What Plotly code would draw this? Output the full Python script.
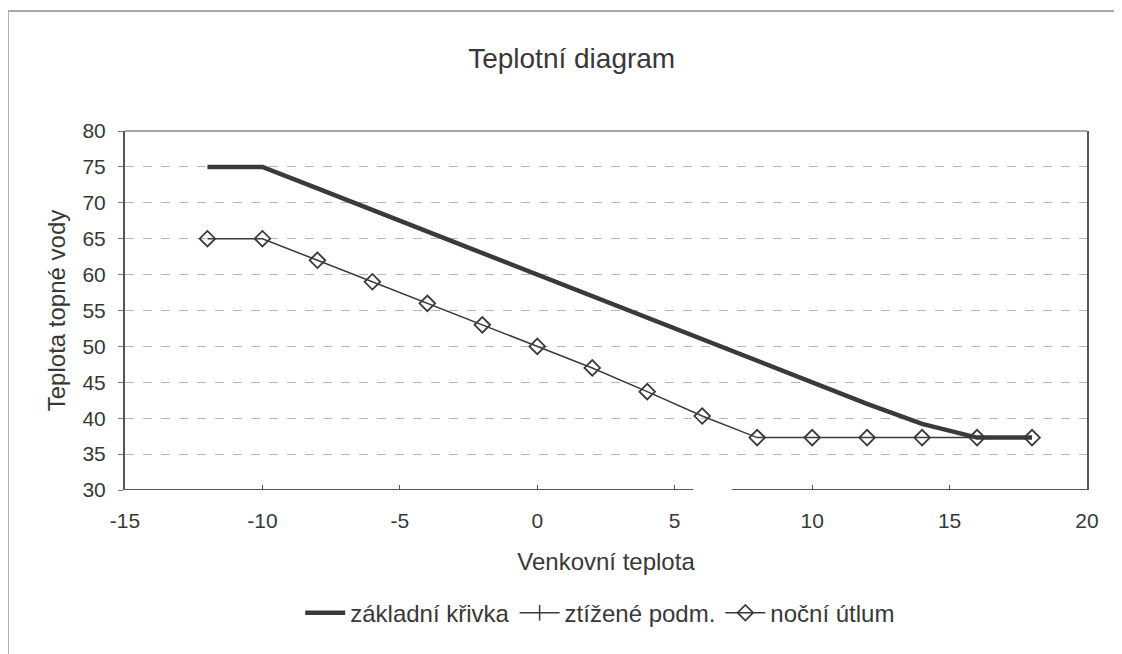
import plotly.graph_objects as go

# Data
x_temp = [-12, -10, -8, -6, -4, -2, 0, 2, 4, 6, 8, 10, 12, 14, 16, 18]
zakladni = [75, 75, 72, 69, 66, 63, 60, 57, 54, 51, 48, 45, 42, 39.2, 37.3, 37.3]
nocni = [65, 65, 62, 59, 56, 53, 50, 47, 43.7, 40.3, 37.3, 37.3, 37.3, 37.3, 37.3, 37.3]
ztizene_x = [None]
ztizene_y = [None]

x_ticks = [-15, -10, -5, 0, 5, 10, 15, 20]
y_ticks = [30, 35, 40, 45, 50, 55, 60, 65, 70, 75, 80]

FONT = "Liberation Sans, Arial, sans-serif"
TXT = "#383838"
LINE = "#3a3a3a"

fig = go.Figure()
fig.add_trace(go.Scatter(
    x=x_temp, y=zakladni, mode="lines", name="základní křivka",
    line=dict(color=LINE, width=4.5),
))
fig.add_trace(go.Scatter(
    x=ztizene_x, y=ztizene_y, mode="lines+markers", name="ztížené podm.",
    line=dict(color=LINE, width=1.5),
    marker=dict(symbol="line-ns-open", size=11, line=dict(color=LINE, width=1.5)),
))
fig.add_trace(go.Scatter(
    x=x_temp, y=nocni, mode="lines+markers", name="noční útlum",
    line=dict(color=LINE, width=1.5),
    marker=dict(symbol="diamond-open", size=12, color=LINE, line=dict(color=LINE, width=1.8)),
))

shapes = [
    # outer chart frame (top and left)
    dict(type="line", xref="paper", yref="paper", x0=-0.1216, x1=1.2, y0=1.334, y1=1.334,
         line=dict(color="#a8a8a8", width=2)),
    dict(type="line", xref="paper", yref="paper", x0=-0.1216, x1=-0.1216, y0=1.334, y1=-0.6,
         line=dict(color="#b0b0b0", width=2)),
    # plot area top border
    dict(type="line", xref="paper", yref="paper", x0=0, x1=1, y0=1, y1=1,
         line=dict(color="#8a8a8a", width=1.5)),
    # x axis line (with scanned gap)
    dict(type="line", xref="x", yref="y", x0=-15, x1=5.67, y0=30, y1=30,
         line=dict(color="#555555", width=2)),
    dict(type="line", xref="x", yref="y", x0=7.09, x1=20, y0=30, y1=30,
         line=dict(color="#555555", width=2)),
]

fig.update_layout(
    width=1114, height=646,
    margin=dict(l=117, r=35, t=123, b=164, autoexpand=False),
    paper_bgcolor="white", plot_bgcolor="white",
    font=dict(family=FONT, color=TXT, size=21),
    title=dict(text="Teplotní diagram", x=0.506, xanchor="center", y=0.923, yanchor="middle",
               font=dict(size=28, color=TXT, family=FONT)),
    showlegend=True,
    legend=dict(orientation="h", x=0.494, xanchor="center", y=-0.343, yanchor="middle",
                font=dict(size=24, color=TXT, family=FONT), itemwidth=40,
                bgcolor="rgba(0,0,0,0)", tracegroupgap=0),
    shapes=shapes,
)
fig.update_xaxes(
    range=[-15, 20], tickvals=x_ticks, ticktext=[str(v) for v in x_ticks],
    showgrid=False, zeroline=False, showline=False,
    ticks="inside", ticklen=5, tickcolor="#555555",
    tickfont=dict(size=21, color=TXT), ticklabelstandoff=16,
    title=dict(text="Venkovní teplota", font=dict(size=24, color=TXT), standoff=22),
)
fig.update_yaxes(
    range=[30, 80], tickvals=y_ticks, ticktext=[str(v) for v in y_ticks],
    showgrid=True, gridcolor="#b8b8b8", griddash="dash", gridwidth=1,
    zeroline=False, showline=True, linecolor="#555555", linewidth=2, mirror=True,
    ticks="outside", ticklen=5, tickcolor="#777777",
    tickfont=dict(size=21, color=TXT), ticklabelstandoff=8,
    title=dict(text="Teplota topné vody", font=dict(size=24, color=TXT), standoff=10),
)

fig.write_html("out.html")
